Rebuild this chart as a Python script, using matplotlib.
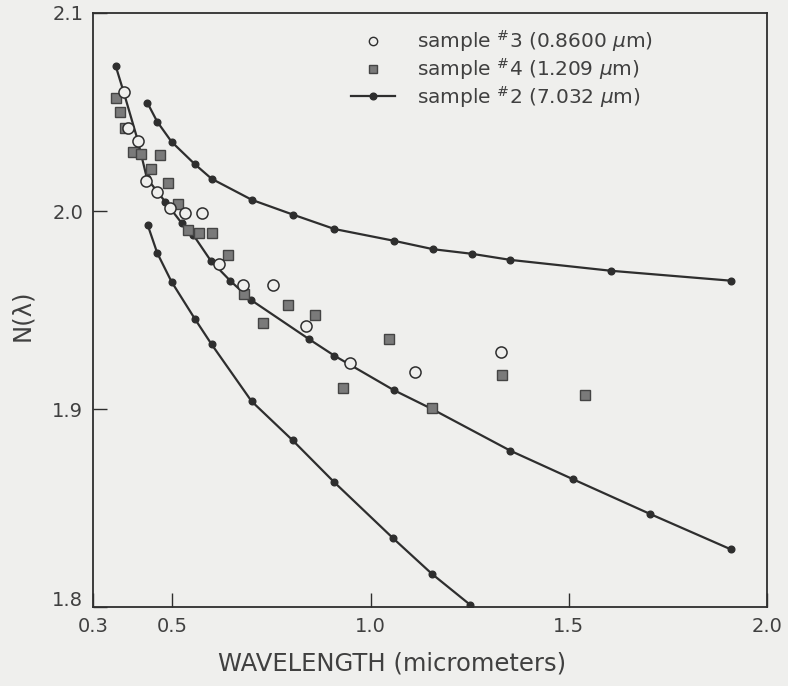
import matplotlib
matplotlib.use("Agg")
import matplotlib.pyplot as plt
import matplotlib.transforms as mtransforms
from matplotlib.lines import Line2D

# Curves (line with dots)
top_x = [0.437, 0.462, 0.498, 0.557, 0.599, 0.701, 0.804, 0.909, 1.058, 1.158, 1.255, 1.353, 1.607, 1.909]
top_y = [2.0547, 2.0451, 2.0350, 2.0236, 2.0163, 2.0056, 1.9982, 1.9909, 1.9850, 1.9807, 1.9784, 1.9753, 1.9698, 1.9648]

mid_x = [0.357, 0.377, 0.413, 0.436, 0.482, 0.524, 0.553, 0.597, 0.646, 0.699, 0.844, 0.909, 1.058, 1.155, 1.353, 1.511, 1.705, 1.909]
mid_y = [2.0734, 2.0603, 2.0356, 2.0165, 2.0047, 1.9938, 1.9879, 1.9749, 1.9648, 1.9550, 1.9354, 1.9269, 1.9096, 1.9000, 1.8789, 1.8645, 1.8470, 1.8291]

bot_x = [0.438, 0.462, 0.498, 0.557, 0.599, 0.700, 0.804, 0.907, 1.057, 1.155, 1.252]
bot_y = [1.9929, 1.9788, 1.9643, 1.9455, 1.9327, 1.9039, 1.8841, 1.8633, 1.8347, 1.8167, 1.8010]

# sample #3 (open circles)
s3_x = [0.377, 0.389, 0.413, 0.433, 0.461, 0.494, 0.532, 0.576, 0.619, 0.678, 0.754, 0.838, 0.949, 1.113, 1.330]
s3_y = [2.0603, 2.0418, 2.0356, 2.0153, 2.0094, 2.0017, 1.9990, 1.9990, 1.9730, 1.9626, 1.9624, 1.9421, 1.9231, 1.9188, 1.9286]

# sample #4 (gray squares)
s4_x = [0.357, 0.369, 0.381, 0.402, 0.422, 0.469, 0.447, 0.488, 0.515, 0.539, 0.568, 0.600, 0.640, 0.680, 0.730, 0.791, 0.861, 0.931, 1.046, 1.155, 1.332, 1.540]
s4_y = [2.0569, 2.0499, 2.0417, 2.0300, 2.0286, 2.0285, 2.0213, 2.0143, 2.0036, 1.9906, 1.9889, 1.9889, 1.9779, 1.9582, 1.9433, 1.9527, 1.9475, 1.9105, 1.9352, 1.9003, 1.9172, 1.9071]

xticks = [0.3, 0.5, 1.0, 1.5, 2.0]
xtick_labels = ["0.3", "0.5", "1.0", "1.5", "2.0"]
yticks = [1.8, 1.9, 2.0, 2.1]
ytick_labels = ["1.8", "1.9", "2.0", "2.1"]

labels = [r"sample $^{\#}$3 (0.8600 $\mu$m)",
          r"sample $^{\#}$4 (1.209 $\mu$m)",
          r"sample $^{\#}$2 (7.032 $\mu$m)"]

bg = "#efefed"
ink = "#2e2e2e"
txt = "#404040"
plt.rcParams['font.family'] = ['DejaVu Sans']
plt.rcParams['mathtext.fontset'] = 'dejavusans'

fig = plt.figure(figsize=(7.88, 6.86), dpi=100, facecolor=bg)
ax = fig.add_axes([93/788, 79/686, 674/788, 594/686])
ax.set_facecolor(bg)

line_kw = dict(color=ink, lw=1.6, marker='o', ms=4.8, mfc=ink, mec=ink)
ax.plot(top_x, top_y, **line_kw)
ax.plot(mid_x, mid_y, **line_kw)
ax.plot(bot_x, bot_y, **line_kw)

ax.plot(s4_x, s4_y, ls='none', marker='s', ms=7, mfc='#7a7a7a', mec='#444444', mew=1.0, zorder=3)
ax.plot(s3_x, s3_y, ls='none', marker='o', ms=8, mfc=bg, mec=ink, mew=1.1, zorder=4)

ax.set_xlim(0.3, 2.0)
ax.set_ylim(1.8, 2.1)
ax.set_xticks(xticks)
ax.set_xticklabels(xtick_labels)
ax.set_yticks(yticks)
ax.set_yticklabels(ytick_labels)
ax.tick_params(direction='in', length=10, width=1.0, color=ink, labelcolor=txt, labelsize=14, pad=7)
for s in ax.spines.values():
    s.set_color(ink)
    s.set_linewidth(1.3)

# raise the 1.8 label slightly, as in the original
lab18 = ax.get_yticklabels()[0]
lab18.set_transform(lab18.get_transform() + mtransforms.ScaledTranslation(0, 6/72, fig.dpi_scale_trans))

ax.set_xlabel("WAVELENGTH (micrometers)", fontsize=17.5, color=txt)
ax.xaxis.set_label_coords((392 - 93) / 674, -(652 - 607) / 594)
ax.set_ylabel("N(λ)", fontsize=17.5, color=txt)
ax.yaxis.set_label_coords(-(93 - 34) / 674, (607 - 315) / 594)

handles = [
    Line2D([], [], ls='none', marker='o', ms=6, mfc=bg, mec=ink, mew=1.0),
    Line2D([], [], ls='none', marker='s', ms=6, mfc='#7a7a7a', mec='#444444'),
    Line2D([], [], color=ink, lw=1.6, marker='o', ms=4.8, mfc=ink, mec=ink),
]
leg = ax.legend(handles, labels, loc='upper left', bbox_to_anchor=((351 - 93) / 674, (607 - 28) / 594),
                frameon=False, fontsize=14.5, handlelength=2.2, handletextpad=1.1,
                labelspacing=0.1, borderaxespad=0, borderpad=0)
for t in leg.get_texts():
    t.set_color(txt)

fig.savefig("out.png", dpi=100, facecolor=bg)
